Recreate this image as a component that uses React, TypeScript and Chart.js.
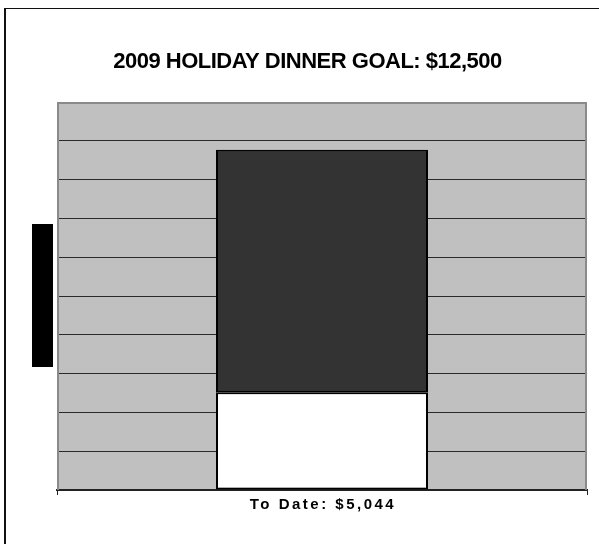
import React, { useEffect, useRef } from "react";
import { Chart, registerables } from "chart.js";

Chart.register(...registerables);

const TITLE = "2009 HOLIDAY DINNER GOAL: $12,500";
const categories = ["To Date: $5,044"];
const toDateValues = [5044];
const goalValues = [12500];
const yMax = 20000;
const yStep = 2000;

const framePlugin = {
  id: "framePlugin",
  beforeDraw(chart: any) {
    const { ctx, chartArea } = chart;
    ctx.save();
    // outer border (top & left)
    ctx.fillStyle = "#111";
    ctx.fillRect(4, 8, 2, chart.height - 8);
    ctx.fillRect(4, 8, chart.width - 4, 1);
    // plot background
    ctx.fillStyle = "#C0C0C0";
    ctx.fillRect(chartArea.left, chartArea.top, chartArea.right - chartArea.left, chartArea.bottom - chartArea.top);
    // title
    ctx.fillStyle = "#000";
    ctx.font = "bold 22px 'Liberation Sans', Arial, sans-serif";
    (ctx as any).letterSpacing = "-0.5px";
    ctx.textAlign = "center";
    ctx.textBaseline = "alphabetic";
    ctx.fillText(TITLE, 307.5, 68);
    (ctx as any).letterSpacing = "0px";
    // black box left of axis
    const cy = (chartArea.top + chartArea.bottom) / 2;
    ctx.fillStyle = "#000";
    ctx.fillRect(chartArea.left - 25, cy - 72, 21, 143);
    ctx.restore();
  },
  beforeDatasetsDraw(chart: any) {
    const { ctx, chartArea } = chart;
    ctx.save();
    ctx.strokeStyle = "#8a8a8a";
    ctx.lineWidth = 2;
    ctx.beginPath();
    ctx.moveTo(chartArea.left + 1, chartArea.bottom);
    ctx.lineTo(chartArea.left + 1, chartArea.top + 1);
    ctx.lineTo(chartArea.right - 1, chartArea.top + 1);
    ctx.lineTo(chartArea.right - 1, chartArea.bottom);
    ctx.stroke();
    ctx.restore();
  },
  afterDraw(chart: any) {
    const { ctx } = chart;
    const xScale = chart.scales.x;
    ctx.save();
    ctx.fillStyle = "#000";
    ctx.font = "bold 15px 'Liberation Sans', Arial, sans-serif";
    (ctx as any).letterSpacing = "2.5px";
    ctx.textAlign = "center";
    ctx.textBaseline = "alphabetic";
    categories.forEach((c, i) => {
      ctx.fillText(c, xScale.getPixelForValue(i) + 1, 509);
    });
    (ctx as any).letterSpacing = "0px";
    ctx.restore();
  },
};

export default function App() {
  const ref = useRef<HTMLCanvasElement>(null);
  useEffect(() => {
    if (!ref.current) return;
    const chart = new Chart(ref.current, {
      type: "bar",
      data: {
        labels: categories,
        datasets: [
          {
            label: "To Date",
            data: toDateValues,
            backgroundColor: "#FFFFFF",
            borderColor: "#000000",
            borderWidth: 2,
            borderSkipped: false,
          },
          {
            label: "Goal",
            data: goalValues,
            backgroundColor: "#333333",
            borderColor: "#000000",
            borderWidth: 2,
            borderSkipped: false,
          },
        ],
      },
      options: {
        animation: false,
        responsive: false,
        maintainAspectRatio: false,
        layout: { padding: { left: 57, right: 12, top: 102, bottom: 49 } },
        plugins: {
          legend: { display: false },
          title: { display: false },
          tooltip: { enabled: false },
        },
        datasets: { bar: { categoryPercentage: 1, barPercentage: 0.4 } },
        scales: {
          x: {
            stacked: true,
            grid: {
              display: true,
              offset: true,
              drawOnChartArea: false,
              drawTicks: true,
              tickLength: 5,
              color: "#222",
            },
            border: { display: true, color: "#222", width: 2 },
            ticks: { display: false },
          },
          y: {
            stacked: true,
            min: 0,
            max: yMax,
            grid: {
              drawTicks: false,
              color: (c: any) => (c.tick && c.tick.value === yMax ? "rgba(0,0,0,0)" : "#2a2a2a"),
              lineWidth: 1,
            },
            border: { display: false },
            ticks: { display: false, stepSize: yStep },
          },
        },
      },
      plugins: [framePlugin],
    });
    return () => chart.destroy();
  }, []);
  return (
    <div style={{ position: "fixed", left: 0, top: 0, width: 599, height: 544, background: "#fff" }}>
      <canvas ref={ref} width={599} height={544} style={{ display: "block" }} />
    </div>
  );
}
